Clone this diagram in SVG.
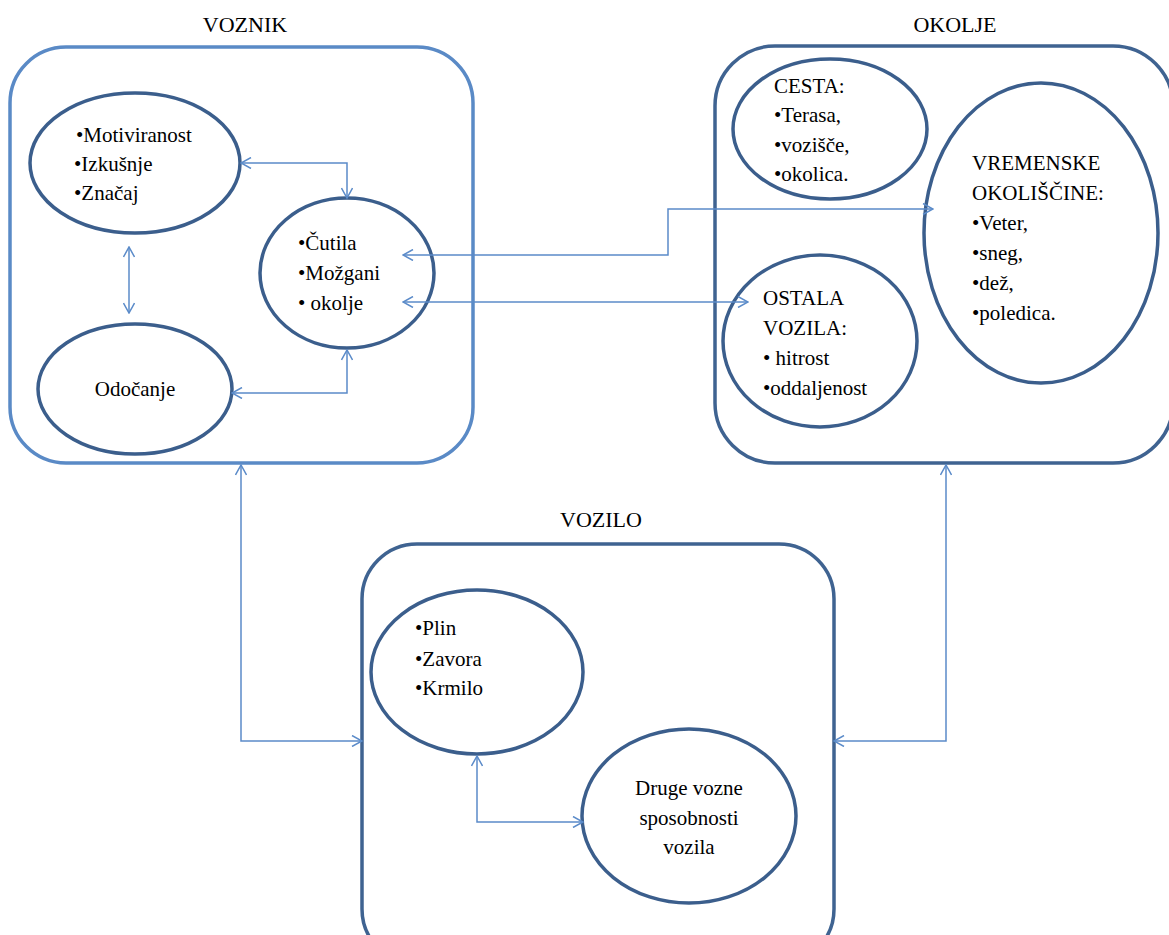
<svg xmlns="http://www.w3.org/2000/svg" width="1169" height="935" viewBox="0 0 1169 935">
<defs>
<style>
text{font-family:"Liberation Serif","Times New Roman",serif;font-size:21px;fill:#000}
.title{font-size:22px}
.box{fill:none;stroke:#3F6391;stroke-width:3.5}
.boxl{fill:none;stroke:#5A8AC6;stroke-width:3.5}
.ell{fill:none;stroke:#3B5E8C;stroke-width:3.5}
.con{fill:none;stroke:#5B8BC9;stroke-width:1.5;marker-start:url(#arr);marker-end:url(#arr)}
</style>
<marker id="arr" viewBox="0 0 12 12" refX="11" refY="6" markerWidth="12" markerHeight="12" markerUnits="userSpaceOnUse" orient="auto-start-reverse">
<path d="M1,0.5 L11,6 L1,11.5" fill="none" stroke="#5B8BC9" stroke-width="1.5"/>
</marker>
</defs>
<rect width="1169" height="935" fill="#fff"/>

<g id="voznik">
<rect class="boxl" x="10" y="47" width="463" height="416" rx="56" ry="56"/>
<text class="title" x="245" y="32" text-anchor="middle">VOZNIK</text>
</g>
<g id="okolje">
<rect class="box" x="715" y="46" width="458" height="417" rx="60" ry="60"/>
<text class="title" x="955" y="32" text-anchor="middle">OKOLJE</text>
</g>
<g id="vozilo">
<rect class="box" x="362" y="544" width="472" height="420" rx="55" ry="55"/>
<text class="title" x="601" y="527" text-anchor="middle">VOZILO</text>
</g>

<g id="n-motiviranost">
<ellipse class="ell" cx="135" cy="163" rx="105" ry="70"/>
<text x="76" y="142">•Motiviranost</text>
<text x="74" y="171">•Izkušnje</text>
<text x="74" y="200">•Značaj</text>
</g>
<g id="n-odocanje">
<ellipse class="ell" cx="135" cy="389" rx="97" ry="65"/>
<text x="135" y="396" text-anchor="middle">Odočanje</text>
</g>
<g id="n-cutila">
<ellipse class="ell" cx="347" cy="273" rx="87" ry="75"/>
<text x="298" y="250">•Čutila</text>
<text x="298" y="280">•Možgani</text>
<text x="298" y="310">• okolje</text>
</g>
<g id="n-cesta">
<ellipse class="ell" cx="830" cy="129" rx="97" ry="70"/>
<text x="774" y="93">CESTA:</text>
<text x="774" y="122">•Terasa,</text>
<text x="774" y="152">•vozišče,</text>
<text x="774" y="181">•okolica.</text>
</g>
<g id="n-vremenske">
<ellipse class="ell" cx="1041" cy="233" rx="117" ry="150"/>
<text x="972" y="170">VREMENSKE</text>
<text x="972" y="200">OKOLIŠČINE:</text>
<text x="972" y="230">•Veter,</text>
<text x="972" y="260">•sneg,</text>
<text x="972" y="290">•dež,</text>
<text x="972" y="320">•poledica.</text>
</g>
<g id="n-ostala">
<ellipse class="ell" cx="820" cy="341" rx="97" ry="86"/>
<text x="763" y="305">OSTALA</text>
<text x="763" y="335">VOZILA:</text>
<text x="763" y="365">• hitrost</text>
<text x="763" y="395">•oddaljenost</text>
</g>
<g id="n-plin">
<ellipse class="ell" cx="477" cy="672" rx="106" ry="82"/>
<text x="415" y="635">•Plin</text>
<text x="415" y="666">•Zavora</text>
<text x="415" y="695">•Krmilo</text>
</g>
<g id="n-druge">
<ellipse class="ell" cx="689" cy="816" rx="107" ry="87"/>
<text x="689" y="795" text-anchor="middle">Druge vozne</text>
<text x="689" y="825" text-anchor="middle">sposobnosti</text>
<text x="689" y="854" text-anchor="middle">vozila</text>
</g>

<g id="connectors">
<path class="con" d="M241,163 H347 V198"/>
<path class="con" d="M129,247 V313"/>
<path class="con" d="M232,393 H347 V350"/>
<path class="con" d="M403,255 H668 V209 H933"/>
<path class="con" d="M403,302 H748"/>
<path class="con" d="M241,465 V741 H362"/>
<path class="con" d="M946,465 V741 H834"/>
<path class="con" d="M477,756 V822 H583"/>
</g>
</svg>
